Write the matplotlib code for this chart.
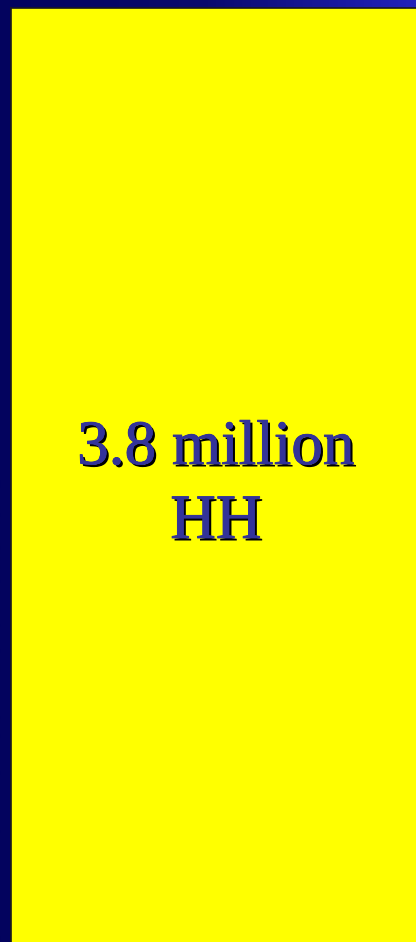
import matplotlib
import matplotlib.pyplot as plt
import matplotlib.patheffects as pe
import numpy as np
from matplotlib.colors import LinearSegmentedColormap

matplotlib.use('Agg')

# text of the slide
lines = ['3.8 million', 'HH']
baselines_px = [464, 538]  # baseline of each line, from top

W, H = 416, 942
fig = plt.figure(figsize=(W / 100, H / 100), dpi=100)

# background: navy gradient, darker at the left
bg = fig.add_axes([0, 0, 1, 1])
bg.set_axis_off()
cmap = LinearSegmentedColormap.from_list('navy', ['#03035e', '#0a0a6e', '#2222bb'])
grad = np.linspace(0, 1, 256).reshape(1, -1)
bg.imshow(grad, cmap=cmap, aspect='auto', extent=[0, W, H, 0])
bg.set_xlim(0, W)
bg.set_ylim(H, 0)

# yellow box with a thin dark edge
box = plt.Rectangle((11, 8), W, H, facecolor='#ffff00', edgecolor='#1a1a1a', linewidth=1.2)
bg.add_patch(box)

shadow = [pe.withSimplePatchShadow(offset=(1.8, -1.8), shadow_rgbFace='black', alpha=1.0),
          pe.Stroke(linewidth=0.6, foreground='#333399'),
          pe.Normal()]
for txt, y in zip(lines, baselines_px):
    bg.text(216, y, txt, ha='center', va='baseline', fontsize=45.5,
            family='Liberation Serif', color='#333399', path_effects=shadow)

fig.savefig('out.png', dpi=100)
